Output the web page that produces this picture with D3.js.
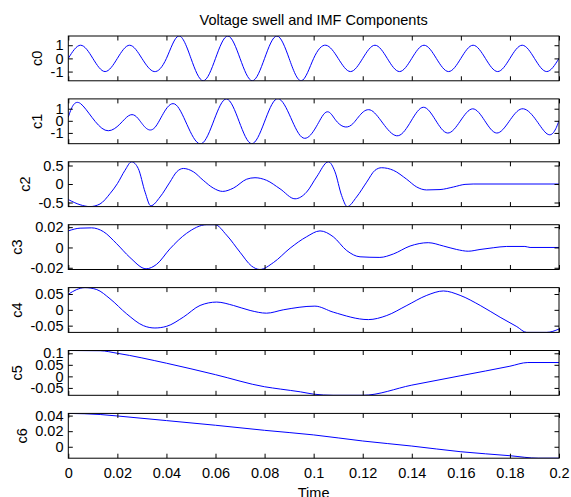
<!DOCTYPE html>
<html lang="en">
<head>
<meta charset="UTF-8">
<title>Voltage swell and IMF Components</title>
<script src="https://d3js.org/d3.v7.min.js"></script>
<style>
  body { margin: 0; background: #fff; }
  svg text { font-family: "Liberation Sans", Arial, sans-serif; fill: #000; }
  .tick line { stroke: #000; }
  .frame { fill: none; stroke: #000; stroke-width: 1; }
  .trace { fill: none; stroke: #0000ff; stroke-width: 1; }
</style>
</head>
<body>
<script>
// signal and IMF samples, [time, value]
const c0 = [[0,0],[0.005,1],[0.01,0],[0.015,-1],[0.02,0],[0.025,1],[0.03,0],[0.035,-1],[0.04,0],
  [0.045,1.7],[0.05,0],[0.055,-1.7],[0.06,0],[0.065,1.7],[0.07,0],[0.075,-1.7],[0.08,0],[0.085,1.7],
  [0.09,0],[0.095,-1.7],[0.1,0],[0.105,1],[0.11,0],[0.115,-1],[0.12,0],[0.125,1],[0.13,0],[0.135,-1],
  [0.14,0],[0.145,1],[0.15,0],[0.155,-1],[0.16,0],[0.165,1],[0.17,0],[0.175,-1],[0.18,0],[0.185,1],
  [0.19,0],[0.195,-1],[0.2,0]];
const c1 = [[0,0.3],[0.005,1.42],[0.015,-0.77],[0.0238,0.3],[0.029,0.05],[0.0353,-0.55],[0.0439,1.32],
  [0.0543,-1.89],[0.0645,1.81],[0.0747,-1.89],[0.0849,1.81],[0.0951,-1.34],[0.1039,0.49],[0.109,0.05],
  [0.1155,-0.33],[0.1236,0.85],[0.1345,-1.23],[0.1447,1.12],[0.1546,-1.01],[0.1648,0.99],[0.1746,-1.01],
  [0.1848,0.99],[0.1947,-1.01],[0.2,0]];
const c2 = [[0,-0.42],[0.0048,-0.56],[0.0088,-0.61],[0.0129,-0.54],[0.017,-0.26],[0.0200,0.01],
  [0.0231,0.37],[0.0258,0.6],[0.0285,0.42],[0.0313,-0.22],[0.0336,-0.59],[0.0374,-0.35],[0.0414,0.05],
  [0.0442,0.33],[0.0469,0.42],[0.051,0.33],[0.0550,0.1],[0.0591,-0.11],[0.0629,-0.2],[0.0673,-0.11],
  [0.0727,0.13],[0.0761,0.17],[0.0808,0.1],[0.0863,-0.13],[0.0924,-0.4],[0.0971,-0.22],[0.1012,0.19],
  [0.106,0.6],[0.1087,0.33],[0.1114,-0.31],[0.1137,-0.61],[0.1175,-0.35],[0.1216,0.05],[0.125,0.37],
  [0.1277,0.44],[0.1325,0.37],[0.1379,0.13],[0.142,-0.08],[0.146,-0.16],[0.1515,-0.15],[0.157,-0.08],
  [0.1617,-0.01],[0.165,0],[0.2,0]];
const c3 = [[0,0.0163],[0.0048,0.019],[0.0095,0.0193],[0.0143,0.0156],[0.0197,0.0037],[0.0251,-0.0098],
  [0.0317,-0.021],[0.0360,-0.0166],[0.0414,-0.0014],[0.0482,0.0139],[0.0564,0.0224],[0.0598,0.0224],
  [0.0645,0.0122],[0.0700,-0.0047],[0.0747,-0.0183],[0.0781,-0.0217],[0.0836,-0.0149],[0.0904,-0.0007],
  [0.0971,0.0105],[0.1026,0.0163],[0.108,0.0105],[0.1135,-0.0031],[0.1189,-0.0092],[0.127,-0.0098],
  [0.1325,-0.0064],[0.1393,0.0014],[0.1467,0.0047],[0.1529,0.0014],[0.1583,-0.002],[0.163,-0.0037],
  [0.1678,-0.002],[0.1732,-0.0003],[0.1787,0.001],[0.1861,0.001],[0.1882,0],[0.2,0]];
const c4 = [[0,0.049],[0.0034,0.064],[0.0068,0.0702],[0.0116,0.064],[0.017,0.035],[0.0238,-0.0128],
  [0.0306,-0.05],[0.0353,-0.0574],[0.0401,-0.052],[0.0469,-0.023],[0.0537,0.0138],[0.0605,0.0245],
  [0.0673,0.0138],[0.0741,-0.002],[0.0808,-0.0106],[0.0876,0],[0.1005,0.0117],[0.108,-0.0074],
  [0.1223,-0.0309],[0.1298,-0.018],[0.138,0.0138],[0.1461,0.0457],[0.1529,0.0596],[0.1597,0.0457],
  [0.1679,0.0138],[0.176,-0.0234],[0.1828,-0.053],[0.1868,-0.0713],[0.195,-0.0713],[0.2,-0.0606]];
const c5 = [[0,0.112],[0.013,0.111],[0.02,0.1],[0.04,0.057],[0.06,0.0073],[0.08,-0.045],[0.0864,-0.055],
  [0.0946,-0.067],[0.1,-0.077],[0.108,-0.082],[0.12,-0.082],[0.14,-0.038],[0.16,0.003],[0.18,0.044],
  [0.1873,0.06],[0.2,0.06]];
const c6 = [[0,0.0428],[0.013,0.0414],[0.02,0.0395],[0.04,0.0336],[0.06,0.0276],[0.08,0.0211],
  [0.1,0.0152],[0.12,0.0074],[0.14,0.0009],[0.16,-0.0064],[0.18,-0.0115],[0.1916,-0.0147],[0.2,-0.0147]];

const names = ["c0", "c1", "c2", "c3", "c4", "c5", "c6"];
const xTicks = [0, 0.02, 0.04, 0.06, 0.08, 0.1, 0.12, 0.14, 0.16, 0.18, 0.2];
const c0Ticks = [-1, 0, 1];
const c1Ticks = [-1, 0, 1];
const c2Ticks = [-0.5, 0, 0.5];
const c3Ticks = [-0.02, 0, 0.02];
const c4Ticks = [-0.05, 0, 0.05];
const c5Ticks = [-0.05, 0, 0.05, 0.1];
const c6Ticks = [0, 0.02, 0.04];

const series = [c0, c1, c2, c3, c4, c5, c6];
const tickSets = [c0Ticks, c1Ticks, c2Ticks, c3Ticks, c4Ticks, c5Ticks, c6Ticks];
// sine-like traces get a natural spline, the rest monotone
const curves = [d3.curveNatural, d3.curveNatural, d3.curveMonotoneX, d3.curveMonotoneX,
  d3.curveMonotoneX, d3.curveMonotoneX, d3.curveMonotoneX];

const W = 571, H = 497;
const left = 68.3, right = 559;
const tickLen = 4.5;

const svg = d3.select("body").append("svg")
  .attr("width", W)
  .attr("height", H);

const x = d3.scaleLinear().domain([0, 0.2]).range([left, right]);
const row = d3.scaleBand().domain(names).range([36, 458.2]).paddingInner(0.288);

svg.append("text")
  .attr("x", (left + right) / 2)
  .attr("y", 25)
  .attr("text-anchor", "middle")
  .style("font-size", "14.5px")
  .text("Voltage swell and IMF Components");

names.forEach((name, i) => {
  const top = row(name), h = row.bandwidth(), bottom = top + h;
  const data = series[i];
  const y = d3.scaleLinear().domain(d3.extent(data, d => d[1])).range([bottom, top]);
  const g = svg.append("g");

  g.append("clipPath").attr("id", "clip" + i)
    .append("rect").attr("x", left).attr("y", top).attr("width", right - left).attr("height", h);

  g.append("path")
    .datum(data)
    .attr("class", "trace")
    .attr("clip-path", `url(#clip${i})`)
    .attr("d", d3.line().x(d => x(d[0])).y(d => y(d[1])).curve(curves[i]));

  const last = i === names.length - 1;
  const bx = g.append("g").attr("transform", `translate(0,${bottom})`)
    .call(d3.axisBottom(x).tickValues(xTicks).tickSizeInner(-tickLen).tickSizeOuter(0)
      .tickPadding(10).tickFormat(last ? d => String(d) : ""));
  g.append("g").attr("transform", `translate(0,${top})`)
    .call(d3.axisTop(x).tickValues(xTicks).tickSizeInner(-tickLen).tickSizeOuter(0).tickFormat(""));
  const ly = g.append("g").attr("transform", `translate(${left},0)`)
    .call(d3.axisLeft(y).tickValues(tickSets[i]).tickSizeInner(-tickLen).tickSizeOuter(0)
      .tickPadding(4.8).tickFormat(d => String(d)));
  g.append("g").attr("transform", `translate(${right},0)`)
    .call(d3.axisRight(y).tickValues(tickSets[i]).tickSizeInner(-tickLen).tickSizeOuter(0).tickFormat(""));

  g.selectAll(".domain").remove();
  g.selectAll(".tick text").style("font-size", "14.5px").attr("fill", "#000");
  bx.selectAll(".tick text").attr("dy", null).attr("y", 20.1);

  g.append("rect").attr("class", "frame")
    .attr("x", left).attr("y", top).attr("width", right - left).attr("height", h);

  // y label sits just left of the widest tick label
  let minX = left;
  ly.selectAll(".tick text").each(function () {
    const b = this.getBBox();
    minX = Math.min(minX, left + b.x);
  });
  const lx = minX - 8.3;
  svg.append("text")
    .attr("transform", `translate(${lx},${top + h / 2}) rotate(-90)`)
    .attr("text-anchor", "middle")
    .style("font-size", "14.5px")
    .text(name);
});

svg.append("text")
  .attr("x", (left + right) / 2)
  .attr("y", 497.5)
  .attr("text-anchor", "middle")
  .style("font-size", "14.5px")
  .text("Time");
</script>
</body>
</html>
